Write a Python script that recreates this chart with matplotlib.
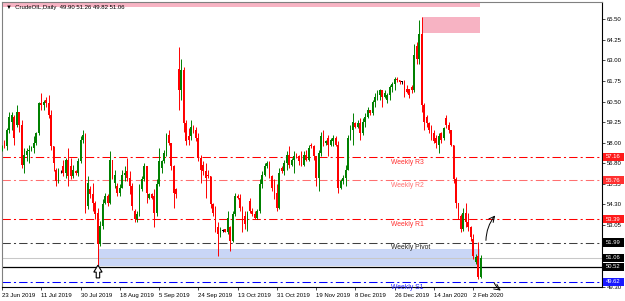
import matplotlib
matplotlib.use("Agg")
import matplotlib.pyplot as plt
import matplotlib.transforms as mtransforms
from matplotlib.patches import Rectangle, Polygon

# ----------------------------------------------------------
# Daily candles, one row per week
# ----------------------------------------------------------
opens = [
    57.6, 58.0, 57.8, 58.8, 59.3, 59.6,
    59.1, 59.9, 59.1, 56.7, 57.3, 57.5,
    57.6, 57.7, 58.0, 58.6, 60.4, 60.3,
    60.6, 60.4, 59.7, 57.8, 56.4, 55.7,
    56.3, 56.6, 56.2, 57.0, 56.6, 56.0,
    56.3, 56.2, 56.9, 58.2, 58.5, 54.2,
    55.2, 54.9, 54.4, 53.8, 51.9, 53.0,
    54.4, 54.8, 54.4, 57.0, 55.6, 55.4,
    55.0, 55.3, 56.1, 56.3, 55.9, 55.4,
    53.9, 53.4, 53.7, 55.2, 55.8, 56.6,
    54.7, 54.9, 54.8, 53.8, 55.5, 56.5,
    56.9, 57.4, 58.5, 58.0, 56.6, 55.2,
    62.5, 61.2, 62.4, 59.2, 58.4, 58.4,
    59.0, 58.8, 58.3, 57.1, 56.7, 56.3,
    56.1, 56.0, 54.3, 53.8, 52.9, 52.5,
    52.7, 52.8, 52.6, 52.9, 52.1, 53.7,
    54.8, 54.7, 54.1, 53.6, 53.1, 54.5,
    53.9, 53.7, 53.5, 53.9, 55.5, 56.1,
    56.6, 56.8, 56.0, 55.3, 55.0, 54.1,
    56.5, 56.3, 56.8, 57.3, 56.7, 57.0,
    57.3, 57.2, 56.9, 56.7, 57.3, 57.0,
    57.9, 57.8, 57.2, 55.9, 57.4, 58.4,
    58.0, 58.3, 57.9, 58.1, 58.3, 57.9,
    55.3, 55.7, 55.9, 56.4, 58.3, 58.8,
    59.2, 59.0, 59.2, 58.6, 59.3, 59.6,
    60.0, 59.8, 60.5, 60.8, 60.9, 61.2,
    60.8, 60.6, 60.9, 61.4, 61.6, 61.9,
    61.8, 61.7, 61.7, 61.3, 61.3, 61.4,
    61.2, 63.9, 63.1, 64.6, 60.3, 59.6,
    59.2, 59.0, 58.6, 58.3, 57.9, 58.6,
    58.3, 59.5, 59.1, 58.8, 57.9, 55.8,
    54.4, 53.6, 52.8, 53.8, 53.2, 52.9,
    52.2, 50.8, 51.2, 49.90,
]
highs = [
    57.9, 58.2, 58.9, 59.9, 59.9, 59.7,
    60.3, 59.9, 59.4, 57.7, 57.7, 57.9,
    57.8, 58.4, 58.7, 60.5, 61.0, 60.6,
    60.8, 60.9, 60.0, 57.8, 56.5, 56.5,
    56.4, 57.0, 57.1, 57.7, 57.1, 56.7,
    56.4, 57.1, 58.4, 58.8, 58.6, 56.0,
    55.4, 55.6, 54.5, 54.1, 53.3, 54.6,
    55.0, 54.9, 57.5, 57.0, 56.4, 55.6,
    55.5, 56.4, 56.6, 57.1, 56.3, 55.6,
    54.0, 53.9, 55.5, 56.0, 56.8, 56.6,
    55.0, 55.0, 55.2, 55.8, 57.7, 57.0,
    57.6, 58.6, 58.8, 58.0, 56.7, 55.3,
    63.8, 63.1, 62.6, 59.4, 58.9, 59.4,
    59.1, 59.0, 58.6, 57.3, 56.9, 56.8,
    56.4, 56.0, 54.4, 54.2, 53.2, 52.9,
    52.8, 52.8, 53.9, 53.0, 53.9, 55.0,
    54.9, 54.9, 54.2, 53.9, 53.9, 54.7,
    54.1, 53.9, 54.0, 55.8, 56.3, 56.8,
    56.9, 56.9, 56.1, 55.8, 55.5, 56.5,
    56.6, 57.0, 57.5, 57.8, 57.1, 57.5,
    57.4, 57.3, 57.5, 57.5, 57.6, 57.9,
    58.0, 57.9, 57.2, 57.6, 58.7, 58.8,
    58.2, 58.5, 58.3, 58.5, 58.4, 58.1,
    55.8, 56.1, 56.7, 58.5, 59.1, 59.8,
    59.3, 59.4, 59.5, 59.5, 59.8, 60.2,
    60.0, 60.6, 61.0, 61.2, 61.3, 61.2,
    61.2, 61.0, 61.5, 61.7, 62.0, 62.0,
    61.8, 61.75, 61.8, 61.5, 61.3, 61.5,
    64.0, 64.1, 65.45, 65.6, 60.4, 59.7,
    59.3, 59.1, 58.8, 58.5, 58.6, 58.7,
    59.0, 59.7, 59.3, 58.8, 57.9, 55.95,
    54.4, 53.7, 54.1, 54.4, 53.8, 53.0,
    52.5, 51.3, 52.0, 51.26,
]
lows = [
    57.5, 57.7, 57.6, 58.6, 58.8, 57.9,
    59.0, 58.7, 56.5, 56.2, 56.9, 56.8,
    57.5, 57.4, 57.9, 58.5, 60.0, 60.0,
    60.2, 59.5, 57.6, 56.3, 55.4, 55.6,
    56.2, 56.0, 55.9, 55.4, 55.8, 55.9,
    56.1, 56.0, 56.8, 58.0, 53.8, 54.0,
    54.7, 53.9, 53.4, 50.55, 51.8, 52.8,
    54.3, 54.2, 54.3, 55.8, 55.3, 54.8,
    54.8, 55.3, 55.7, 55.7, 54.9, 53.95,
    53.2, 53.2, 53.6, 55.1, 55.7, 54.4,
    54.6, 54.6, 52.9, 53.6, 55.4, 56.2,
    56.8, 57.2, 57.9, 56.4, 54.1, 54.7,
    60.0, 60.6, 58.7, 57.9, 57.9, 58.2,
    58.6, 58.1, 56.9, 55.6, 56.1, 54.7,
    55.9, 54.1, 53.6, 52.6, 51.2, 52.3,
    52.6, 52.6, 52.5, 51.5, 52.0, 53.6,
    54.6, 53.9, 52.6, 52.8, 52.7, 53.8,
    53.6, 53.4, 53.4, 53.8, 55.3, 56.0,
    56.5, 55.9, 55.1, 54.6, 53.9, 54.0,
    56.2, 56.1, 56.4, 56.5, 56.6, 56.2,
    57.1, 56.7, 56.6, 56.6, 56.9, 56.9,
    57.7, 57.0, 55.4, 55.1, 57.2, 57.8,
    57.9, 57.2, 57.8, 57.8, 57.8, 55.0,
    55.2, 55.5, 55.4, 56.4, 58.2, 57.9,
    58.9, 58.9, 58.2, 58.5, 59.0, 59.5,
    59.7, 59.7, 60.2, 60.6, 60.6, 60.2,
    60.7, 60.4, 60.6, 61.1, 61.2, 61.7,
    61.6, 61.6, 60.8, 61.0, 60.7, 61.0,
    61.1, 62.8, 62.8, 59.9, 58.8, 59.0,
    58.6, 58.2, 58.0, 57.7, 57.4, 58.0,
    58.2, 58.9, 58.6, 57.8, 55.6, 54.1,
    53.4, 52.6, 52.7, 52.9, 52.7, 52.1,
    51.0, 50.7, 49.8, 49.82,
]
closes = [
    57.8, 57.8, 58.8, 59.6, 59.7, 58.3,
    59.9, 59.1, 56.7, 57.3, 57.5, 57.6,
    57.7, 58.0, 58.6, 60.4, 60.3, 60.5,
    60.4, 59.7, 57.8, 56.8, 55.7, 56.2,
    56.3, 56.2, 57.0, 56.0, 56.0, 56.4,
    56.2, 56.9, 58.2, 58.5, 54.0, 55.6,
    54.9, 54.4, 53.7, 51.9, 53.0, 54.3,
    54.8, 54.4, 57.0, 55.9, 56.1, 55.0,
    55.3, 56.1, 56.2, 55.9, 55.4, 54.2,
    53.4, 53.7, 55.2, 55.8, 56.6, 55.0,
    54.9, 54.7, 53.8, 55.5, 56.9, 56.9,
    57.4, 58.5, 58.0, 56.6, 55.0, 54.9,
    61.2, 62.4, 59.2, 58.1, 58.2, 59.0,
    58.8, 58.3, 57.1, 56.4, 56.3, 55.9,
    56.0, 54.3, 53.8, 52.9, 52.5, 52.8,
    52.7, 52.6, 53.5, 52.1, 53.7, 54.8,
    54.7, 54.1, 53.3, 53.1, 53.7, 53.9,
    53.7, 53.5, 53.9, 55.5, 56.1, 56.6,
    56.8, 56.0, 55.3, 55.0, 54.1, 56.2,
    56.3, 56.8, 57.3, 56.7, 57.0, 57.2,
    57.2, 56.9, 56.7, 57.3, 57.0, 57.7,
    57.8, 57.2, 55.9, 57.4, 58.4, 58.0,
    58.1, 57.9, 58.2, 58.3, 57.9, 55.3,
    55.7, 55.9, 56.4, 58.3, 58.8, 59.3,
    59.0, 59.2, 58.6, 59.3, 59.6, 60.0,
    59.8, 60.5, 60.8, 61.1, 61.2, 60.8,
    61.0, 60.9, 61.4, 61.6, 61.9, 61.8,
    61.7, 61.7, 61.2, 61.1, 60.9, 61.2,
    63.3, 63.1, 64.6, 60.3, 59.3, 59.2,
    58.8, 58.4, 58.1, 58.0, 58.4, 58.2,
    58.9, 59.1, 58.8, 57.9, 55.8, 54.4,
    53.6, 52.8, 53.8, 53.2, 52.9, 52.3,
    51.2, 51.1, 49.9, 51.06,
]

# x-axis labels every 16 bars
date_labels = ["23 Jun 2019", "11 Jul 2019", "30 Jul 2019", "18 Aug 2019",
               "5 Sep 2019", "24 Sep 2019", "13 Oct 2019", "31 Oct 2019",
               "19 Nov 2019", "8 Dec 2019", "26 Dec 2019", "14 Jan 2020",
               "2 Feb 2020"]
# price scale; 50.55 and 51.80 sit under the price boxes in the screenshot
price_ticks = [49.30, 50.55, 51.80, 53.05, 54.30, 55.55, 56.80, 58.00,
               59.25, 60.50, 61.75, 63.00, 64.25, 65.50]
hidden_ticks = [50.55, 51.80]

# weekly pivot levels
level_names = ["Weekly R3", "Weekly R2", "Weekly R1", "Weekly Pivot", "Weekly S1"]
level_values = [57.16, 55.76, 53.39, 51.99, 49.62]
level_colors = ["#ff0000", "#ff7070", "#ff0000", "#404040", "#0000ff"]
text_colors = ["#ff3030", "#ff7070", "#ff3030", "#202020", "#2020ff"]
bid_price = 51.06
support_price = 50.52

# price boxes on the right scale
box_values = [57.16, 55.76, 53.39, 51.99, 51.06, 50.52, 49.62]
box_colors = ["#ff1a1a", "#ff3030", "#ff1a1a", "black", "black", "black", "#1a1aff"]

# ----------------------------------------------------------
# Figure
# ----------------------------------------------------------
plt.rcParams['font.family'] = ['Liberation Sans', 'DejaVu Sans']
fig = plt.figure(figsize=(6.25, 3.01), dpi=100)
ax = fig.add_axes([2 / 625, 14 / 301, 600 / 625, 285 / 301])
ax.set_xlim(0, 244.5)
ax.set_ylim(49.30, 66.53)

# zones
ax.add_patch(Rectangle((0, 66.22), 194.6, 2.0, facecolor="#f7b3c3", edgecolor="none", zorder=1))
ax.add_patch(Rectangle((171, 64.65), 23.6, 0.97, facecolor="#f7b3c3", edgecolor="none", zorder=1))
ax.add_patch(Rectangle((39, 50.55), 155.6, 1.05, facecolor="#c9d6f6", edgecolor="none", zorder=1))

# horizontal levels
dd = (0, (8, 3, 2, 3))
for name, val, col, tc in zip(level_names, level_values, level_colors, text_colors):
    ax.axhline(val, color=col, lw=0.75, ls=dd, zorder=2, snap=True)
    ax.text(158.5, val - 0.12, name, color=tc, fontsize=4.9, va="top", ha="left", zorder=5)
ax.axhline(bid_price, color="#c8c8c8", lw=0.75, zorder=2, snap=True)
ax.axhline(support_price, color="black", lw=0.9, zorder=2, snap=True)

# candles
idx = list(range(len(closes)))
cols = []
for o, c in zip(opens, closes):
    if c > o:
        cols.append("#008000")
    elif c < o:
        cols.append("#ff0000")
    else:
        cols.append("black")
ax.vlines(idx, lows, highs, colors=cols, lw=0.7, zorder=3)
bottoms = [min(o, c) for o, c in zip(opens, closes)]
heights = [max(abs(c - o), 0.04) for o, c in zip(opens, closes)]
ax.bar(idx, heights, bottom=bottoms, width=0.72, color=cols, linewidth=0, zorder=4)

# hand drawn arrows
ax.annotate("", xy=(201.7, 53.75), xytext=(197.2, 51.95),
            arrowprops=dict(arrowstyle="->", lw=0.7, color="black",
                            connectionstyle="arc3,rad=-0.2"), zorder=6)
ax.annotate("", xy=(204.2, 49.0), xytext=(200.1, 49.72), annotation_clip=False,
            arrowprops=dict(arrowstyle="->", lw=0.7, color="black",
                            connectionstyle="arc3,rad=0.2"), zorder=6)
# hollow up arrow under the August low
ax.add_patch(Polygon([(39.1, 50.62), (37.4, 50.2), (38.4, 50.2), (38.4, 49.85),
                      (39.8, 49.85), (39.8, 50.2), (40.8, 50.2)],
                     closed=True, facecolor="white", edgecolor="black", lw=0.8, zorder=6))

# header
ax.text(0.006, 0.988, "\u25bc  CrudeOIL,Daily  49.90 51.26 49.82 51.06",
        transform=ax.transAxes, fontsize=4.3, va="top", ha="left", zorder=7)

# axes
ax.set_xticks(list(range(0, 16 * len(date_labels), 16)))
ax.set_xticklabels(date_labels, ha="left", fontsize=4.3)
ax.tick_params(axis="x", length=2.5, width=0.5, pad=1.5)
ax.yaxis.tick_right()
ax.set_yticks(price_ticks)
ax.set_yticklabels(["" if v in hidden_ticks else f"{v:.2f}" for v in price_ticks], fontsize=4.3)
ax.tick_params(axis="y", length=2, width=0.5, pad=1.5)
for s in ["left", "top"]:
    ax.spines[s].set_color("#808080")
    ax.spines[s].set_linewidth(0.8)
for s in ["right", "bottom"]:
    ax.spines[s].set_color("black")
    ax.spines[s].set_linewidth(0.8)

trans = mtransforms.blended_transform_factory(ax.transAxes, ax.transData)
for v, bc in zip(box_values, box_colors):
    ax.add_patch(Rectangle((1.002, v - 0.25), 0.034, 0.5, transform=trans,
                           facecolor=bc, edgecolor="none", clip_on=False, zorder=8))
    ax.text(1.019, v, f"{v:.2f}", transform=trans, fontsize=4.2, color="white",
            va="center", ha="center", clip_on=False, zorder=9)

fig.savefig("out.png", dpi=100)
